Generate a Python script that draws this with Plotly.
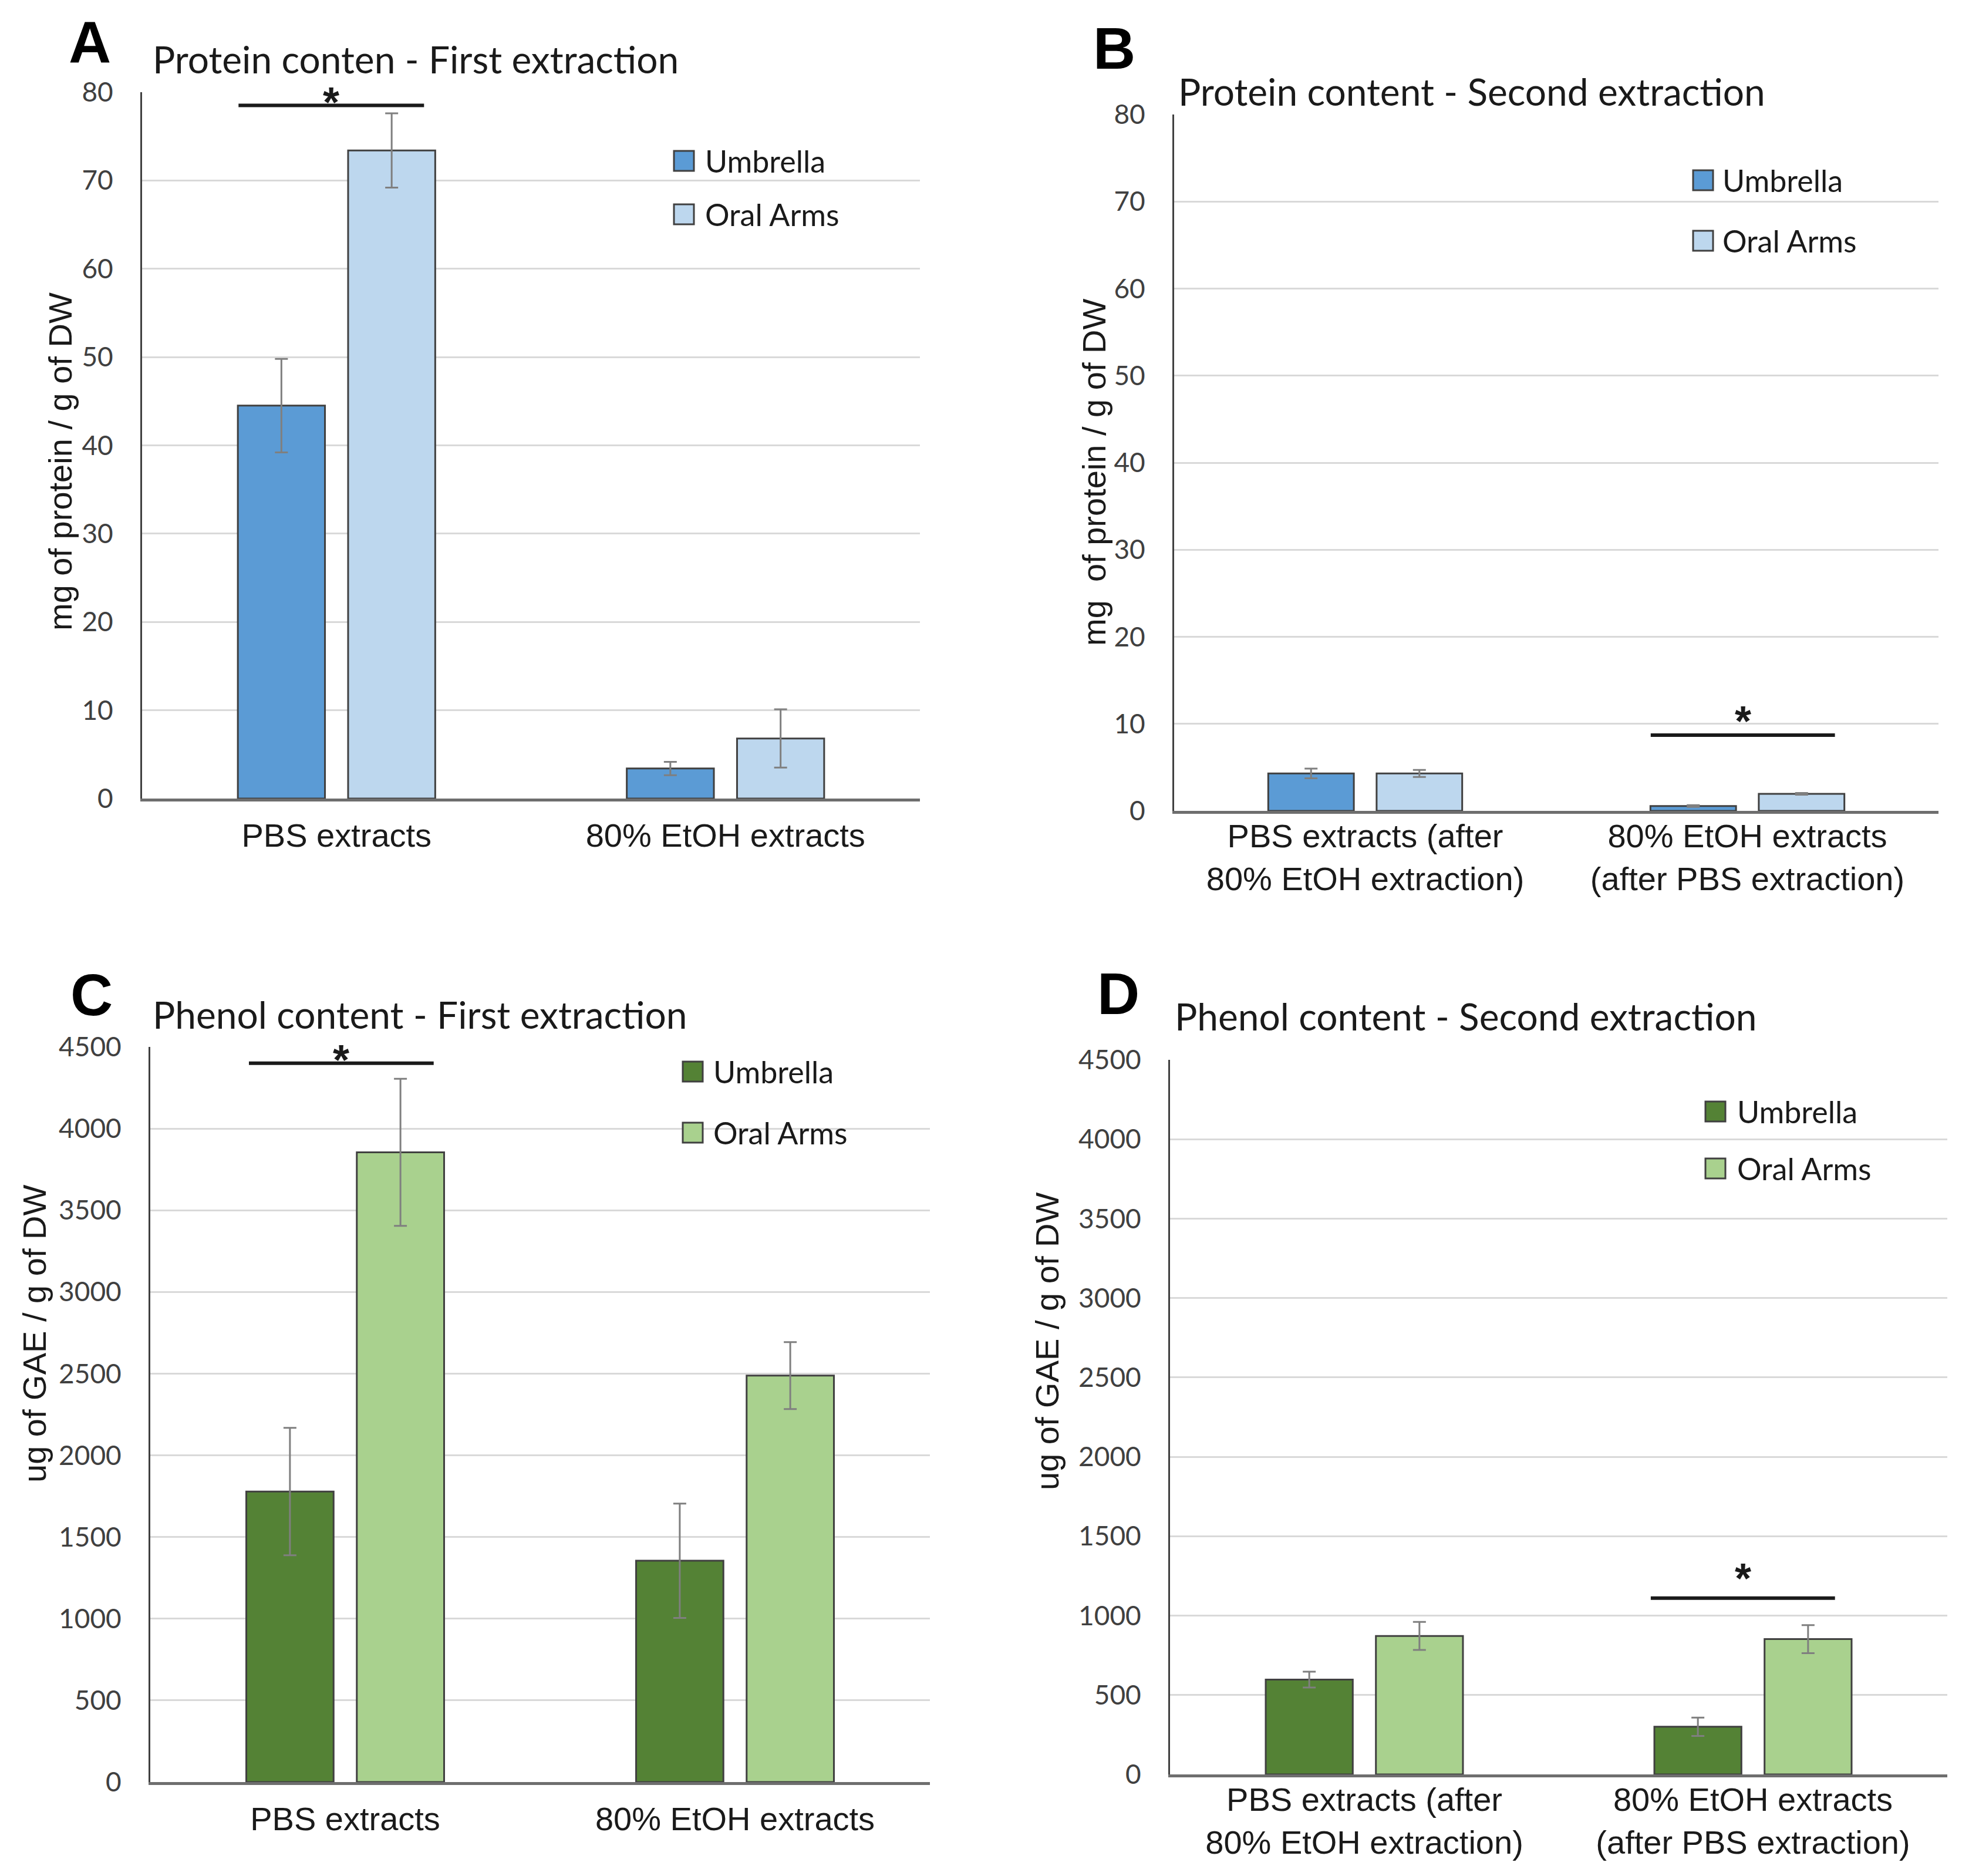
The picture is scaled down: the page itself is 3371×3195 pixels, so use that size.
import plotly.graph_objects as go

# ---------------- data ----------------
cats_first = ["PBS extracts", "80% EtOH extracts"]
cats_second = ["PBS extracts (after<br>80% EtOH extraction)", "80% EtOH extracts<br>(after PBS extraction)"]
series_names = ["Umbrella", "Oral Arms"]

protein1_umbrella = [44.5, 3.4]
protein1_umbrella_err = [5.3, 0.75]
protein1_oral = [73.4, 6.8]
protein1_oral_err = [4.2, 3.3]

protein2_umbrella = [4.3, 0.55]
protein2_umbrella_err = [0.55, 0.1]
protein2_oral = [4.3, 1.95]
protein2_oral_err = [0.4, 0.1]

phenol1_umbrella = [1778, 1355]
phenol1_umbrella_err = [390, 350]
phenol1_oral = [3855, 2488]
phenol1_oral_err = [450, 205]

phenol2_umbrella = [597, 300]
phenol2_umbrella_err = [50, 58]
phenol2_oral = [872, 852]
phenol2_oral_err = [88, 88]

# significance bars: (category index, y level)
sig_A = (0, 78.5)
sig_B = (1, 8.7)
sig_C = (0, 4400)
sig_D = (1, 1110)

titles = ["Protein conten - First extraction", "Protein content - Second extraction",
          "Phenol content - First extraction", "Phenol content - Second extraction"]
letters = ["A", "B", "C", "D"]
ytitles = ["mg of protein / g of DW", "mg  of protein / g of DW",
           "ug of GAE / g of DW", "ug of GAE / g of DW"]

# ---------------- style ----------------
W, H = 3371, 3195
def px(x):
    return x / W
def py(y):
    return 1 - y / H

BLUE_D, BLUE_L = "#5B9BD5", "#BDD7EE"
GREEN_D, GREEN_L = "#548235", "#A9D18E"
OUTLINE = "#404040"
ERR = "#7f7f7f"
CAL = "Lato, Carlito, Calibri, sans-serif"
ARIAL = "Liberation Sans, Arial, sans-serif"

# panel geometry in pixels: (x0, x1, ytop, ybottom, x-label standoff)
panels = {
    "A": (242, 1567, 157, 1360, 10),
    "B": (2000, 3302, 195, 1381, -10),
    "C": (256, 1584, 1783, 3035, 10),
    "D": (1993, 3317, 1805, 3022, -10),
}

fig = go.Figure()

def add_pair(axn, cats, u, ue, o, oe, cu, co):
    xa = "x" if axn == 1 else f"x{axn}"
    ya = "y" if axn == 1 else f"y{axn}"
    for name, vals, errs, col in ((series_names[0], u, ue, cu), (series_names[1], o, oe, co)):
        fig.add_trace(go.Bar(
            x=cats, y=vals, name=name, xaxis=xa, yaxis=ya, showlegend=False,
            marker=dict(color=col, line=dict(color=OUTLINE, width=3)),
            error_y=dict(type="data", array=errs, color=ERR, thickness=3, width=11),
        ))

add_pair(1, cats_first, protein1_umbrella, protein1_umbrella_err, protein1_oral, protein1_oral_err, BLUE_D, BLUE_L)
add_pair(2, cats_second, protein2_umbrella, protein2_umbrella_err, protein2_oral, protein2_oral_err, BLUE_D, BLUE_L)
add_pair(3, cats_first, phenol1_umbrella, phenol1_umbrella_err, phenol1_oral, phenol1_oral_err, GREEN_D, GREEN_L)
add_pair(4, cats_second, phenol2_umbrella, phenol2_umbrella_err, phenol2_oral, phenol2_oral_err, GREEN_D, GREEN_L)

layout = dict(
    width=W, height=H, margin=dict(l=0, r=0, t=0, b=0, autoexpand=False),
    paper_bgcolor="white", plot_bgcolor="white",
    barmode="group", bargap=0.433, bargroupgap=0.21,
    showlegend=False,
)

yranges = {"A": (80, 10), "B": (80, 10), "C": (4500, 500), "D": (4500, 500)}
for i, key in enumerate(["A", "B", "C", "D"]):
    n = "" if i == 0 else str(i + 1)
    x0, x1, yt, yb, xso = panels[key]
    layout["xaxis" + n] = dict(
        domain=[px(x0), px(x1)], anchor="y" + n, type="category", automargin=False,
        showgrid=False, zeroline=False, showline=True, linecolor="#6e6e6e", linewidth=5,
        ticks="", tickfont=dict(family=ARIAL, size=56, color="#1a1a1a"),
        ticklabelstandoff=xso, fixedrange=True,
    )
    rmax, dt = yranges[key]
    layout["yaxis" + n] = dict(
        domain=[py(yb), py(yt)], anchor="x" + n, range=[0, rmax], dtick=dt, automargin=False,
        showgrid=True, gridcolor="#d9d9d9", gridwidth=3, zeroline=False,
        showline=True, linecolor="#404040", linewidth=3,
        ticks="", tickfont=dict(family=CAL, size=46, color="#404040"),
        ticklabelstandoff=37, fixedrange=True,
    )

fig.update_layout(**layout)

annotations = []
shapes = []

# titles, letters, y titles
title_pos = {"A": (258, 100), "B": (2005, 156), "C": (258, 1728), "D": (1999, 1730)}
letter_pos = {"A": (153, 72), "B": (1898, 82), "C": (156, 1694), "D": (1905, 1692)}
ytitle_pos = {"A": (102, 786), "B": (1864, 805), "C": (58, 2272), "D": (1783, 2285)}
for i, key in enumerate(["A", "B", "C", "D"]):
    tx, ty = title_pos[key]
    annotations.append(dict(text=titles[i], x=px(tx), y=py(ty), xref="paper", yref="paper",
                            xanchor="left", yanchor="middle", showarrow=False,
                            font=dict(family=CAL, size=64, color="#1a1a1a")))
    lx, ly = letter_pos[key]
    annotations.append(dict(text="<b>" + letters[i] + "</b>", x=px(lx), y=py(ly), xref="paper", yref="paper",
                            xanchor="center", yanchor="middle", showarrow=False,
                            font=dict(family=ARIAL, size=100, color="black")))
    ax, ay = ytitle_pos[key]
    annotations.append(dict(text=ytitles[i], x=px(ax), y=py(ay), xref="paper", yref="paper",
                            xanchor="center", yanchor="middle", showarrow=False, textangle=-90,
                            font=dict(family=ARIAL, size=56, color="#1a1a1a")))

# legends (drawn manually so the swatches match the original size)
legend_pos = {
    "A": (1165, 1199, (274, 365), (BLUE_D, BLUE_L)),
    "B": (2901, 2932, (307, 410), (BLUE_D, BLUE_L)),
    "C": (1180, 1213, (1825, 1929), (GREEN_D, GREEN_L)),
    "D": (2922, 2957, (1893, 1990), (GREEN_D, GREEN_L)),
}
sw = 34
for key, (sx, tx, ys, cols) in legend_pos.items():
    for name, yy, col in zip(series_names, ys, cols):
        shapes.append(dict(type="rect", xref="paper", yref="paper",
                           x0=px(sx - sw / 2), x1=px(sx + sw / 2), y0=py(yy + sw / 2), y1=py(yy - sw / 2),
                           fillcolor=col, line=dict(color=OUTLINE, width=3)))
        annotations.append(dict(text=name, x=px(tx), y=py(yy), xref="paper", yref="paper",
                                xanchor="left", yanchor="middle", showarrow=False,
                                font=dict(family=CAL, size=52, color="#1a1a1a")))

# significance bars
sig_defs = [("x", "y", sig_A, (-0.252, 0.225), 6),
            ("x2", "y2", sig_B, (-0.253, 0.229), 24),
            ("x3", "y3", sig_C, (-0.247, 0.227), 6),
            ("x4", "y4", sig_D, (-0.263, 0.211), 34)]
for xr, yr, (ci, yv), (o0, o1), ysh in sig_defs:
    shapes.append(dict(type="line", xref=xr, yref=yr, x0=ci + o0, x1=ci + o1, y0=yv, y1=yv,
                       line=dict(color="#1a1a1a", width=6)))
    annotations.append(dict(text="<b>*</b>", x=ci + (o0 + o1) / 2, y=yv, xref=xr, yref=yr,
                            xanchor="center", yanchor="middle", yshift=ysh, showarrow=False,
                            font=dict(family=ARIAL, size=72, color="#1a1a1a")))

fig.update_layout(annotations=annotations, shapes=shapes)
fig.write_html("out.html", config={"displayModeBar": False},
               post_script="document.body.style.margin='0px';")
